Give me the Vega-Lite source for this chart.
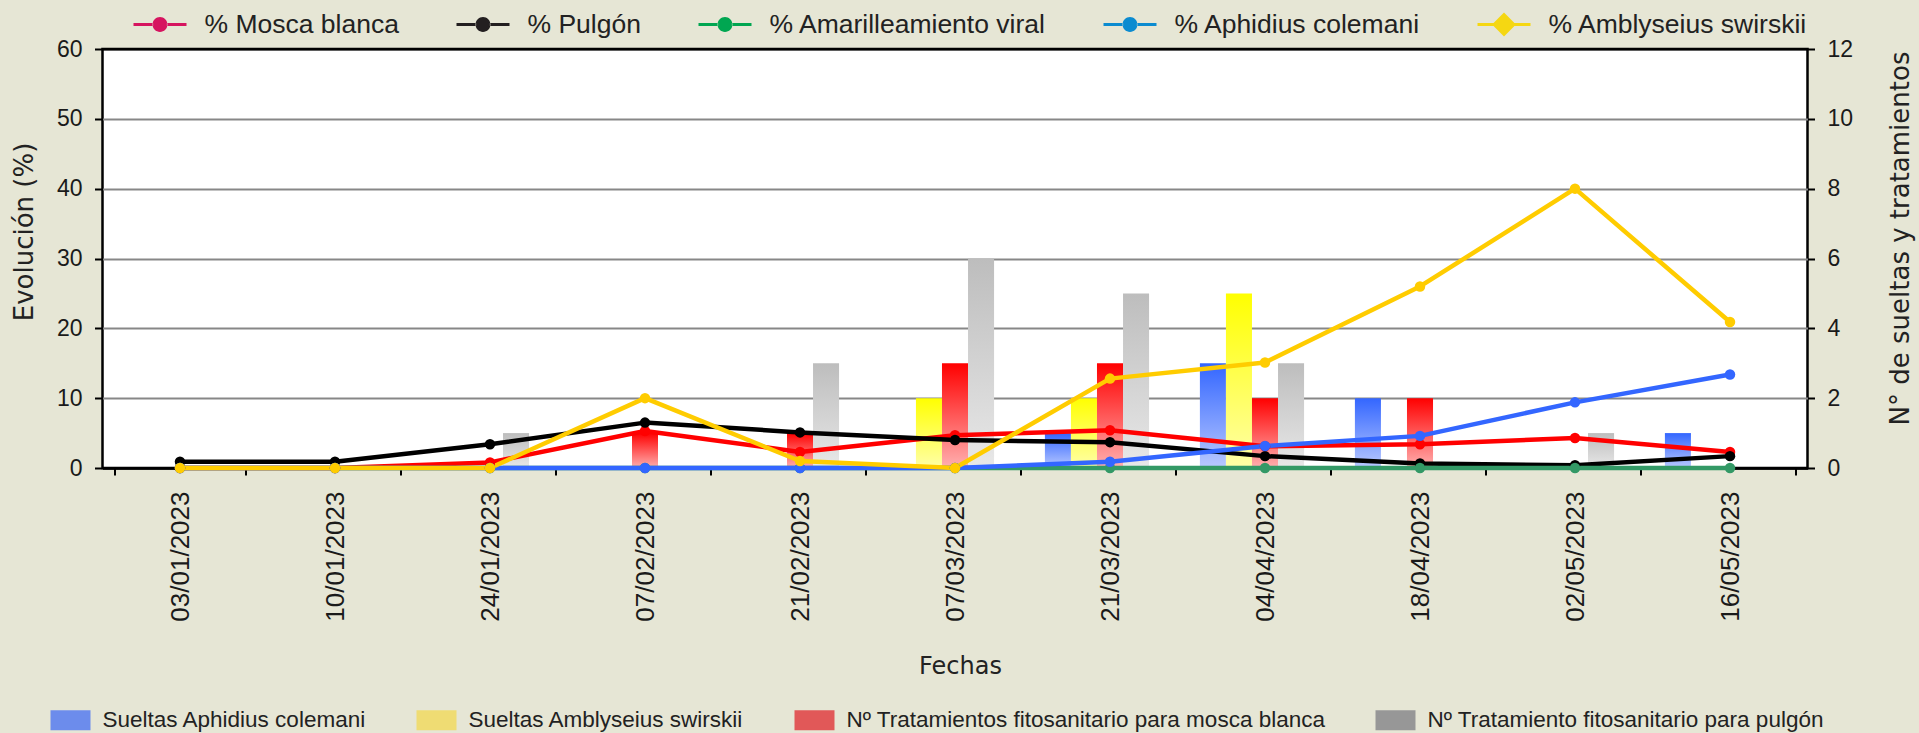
{
  "$schema": "https://vega.github.io/schema/vega-lite/v6.json",
  "width": 1705,
  "height": 419,
  "autosize": {"type": "none"},
  "padding": {"left": 102.5, "top": 49, "right": 111.5, "bottom": 265},
  "background": "#e6e6d5",
  "config": {
    "view": {"stroke": "black", "strokeWidth": 2.5, "fill": "white"},
    "axis": {"labelFont": "Liberation Sans", "labelColor": "#1a1a1a", "titleFont": "DejaVu Sans", "titleFontWeight": "normal", "titleColor": "#222222", "tickColor": "black", "tickWidth": 2, "domainColor": "black", "domainWidth": 2.5}
  },
  "datasets": {
    "lineas": [
      {"fecha": "03/01/2023", "serie": "% Mosca blanca", "pct": 0},
      {"fecha": "10/01/2023", "serie": "% Mosca blanca", "pct": 0},
      {"fecha": "24/01/2023", "serie": "% Mosca blanca", "pct": 0.8},
      {"fecha": "07/02/2023", "serie": "% Mosca blanca", "pct": 5.3},
      {"fecha": "21/02/2023", "serie": "% Mosca blanca", "pct": 2.3},
      {"fecha": "07/03/2023", "serie": "% Mosca blanca", "pct": 4.7},
      {"fecha": "21/03/2023", "serie": "% Mosca blanca", "pct": 5.4},
      {"fecha": "04/04/2023", "serie": "% Mosca blanca", "pct": 3.1},
      {"fecha": "18/04/2023", "serie": "% Mosca blanca", "pct": 3.4},
      {"fecha": "02/05/2023", "serie": "% Mosca blanca", "pct": 4.3},
      {"fecha": "16/05/2023", "serie": "% Mosca blanca", "pct": 2.3},
      {"fecha": "03/01/2023", "serie": "% Pulgón", "pct": 0.9},
      {"fecha": "10/01/2023", "serie": "% Pulgón", "pct": 0.9},
      {"fecha": "24/01/2023", "serie": "% Pulgón", "pct": 3.4},
      {"fecha": "07/02/2023", "serie": "% Pulgón", "pct": 6.5},
      {"fecha": "21/02/2023", "serie": "% Pulgón", "pct": 5.1},
      {"fecha": "07/03/2023", "serie": "% Pulgón", "pct": 4.0},
      {"fecha": "21/03/2023", "serie": "% Pulgón", "pct": 3.7},
      {"fecha": "04/04/2023", "serie": "% Pulgón", "pct": 1.7},
      {"fecha": "18/04/2023", "serie": "% Pulgón", "pct": 0.65},
      {"fecha": "02/05/2023", "serie": "% Pulgón", "pct": 0.4},
      {"fecha": "16/05/2023", "serie": "% Pulgón", "pct": 1.7},
      {"fecha": "03/01/2023", "serie": "% Amarilleamiento viral", "pct": 0},
      {"fecha": "10/01/2023", "serie": "% Amarilleamiento viral", "pct": 0},
      {"fecha": "24/01/2023", "serie": "% Amarilleamiento viral", "pct": 0},
      {"fecha": "07/02/2023", "serie": "% Amarilleamiento viral", "pct": 0},
      {"fecha": "21/02/2023", "serie": "% Amarilleamiento viral", "pct": 0},
      {"fecha": "07/03/2023", "serie": "% Amarilleamiento viral", "pct": 0},
      {"fecha": "21/03/2023", "serie": "% Amarilleamiento viral", "pct": 0},
      {"fecha": "04/04/2023", "serie": "% Amarilleamiento viral", "pct": 0},
      {"fecha": "18/04/2023", "serie": "% Amarilleamiento viral", "pct": 0},
      {"fecha": "02/05/2023", "serie": "% Amarilleamiento viral", "pct": 0},
      {"fecha": "16/05/2023", "serie": "% Amarilleamiento viral", "pct": 0},
      {"fecha": "03/01/2023", "serie": "% Aphidius colemani", "pct": 0},
      {"fecha": "10/01/2023", "serie": "% Aphidius colemani", "pct": 0},
      {"fecha": "24/01/2023", "serie": "% Aphidius colemani", "pct": 0},
      {"fecha": "07/02/2023", "serie": "% Aphidius colemani", "pct": 0},
      {"fecha": "21/02/2023", "serie": "% Aphidius colemani", "pct": 0},
      {"fecha": "07/03/2023", "serie": "% Aphidius colemani", "pct": 0},
      {"fecha": "21/03/2023", "serie": "% Aphidius colemani", "pct": 0.9},
      {"fecha": "04/04/2023", "serie": "% Aphidius colemani", "pct": 3.15},
      {"fecha": "18/04/2023", "serie": "% Aphidius colemani", "pct": 4.6},
      {"fecha": "02/05/2023", "serie": "% Aphidius colemani", "pct": 9.4},
      {"fecha": "16/05/2023", "serie": "% Aphidius colemani", "pct": 13.4},
      {"fecha": "03/01/2023", "serie": "% Amblyseius swirskii", "pct": 0},
      {"fecha": "10/01/2023", "serie": "% Amblyseius swirskii", "pct": 0},
      {"fecha": "24/01/2023", "serie": "% Amblyseius swirskii", "pct": 0},
      {"fecha": "07/02/2023", "serie": "% Amblyseius swirskii", "pct": 10},
      {"fecha": "21/02/2023", "serie": "% Amblyseius swirskii", "pct": 1.0},
      {"fecha": "07/03/2023", "serie": "% Amblyseius swirskii", "pct": 0},
      {"fecha": "21/03/2023", "serie": "% Amblyseius swirskii", "pct": 12.8},
      {"fecha": "04/04/2023", "serie": "% Amblyseius swirskii", "pct": 15.1},
      {"fecha": "18/04/2023", "serie": "% Amblyseius swirskii", "pct": 26},
      {"fecha": "02/05/2023", "serie": "% Amblyseius swirskii", "pct": 40},
      {"fecha": "16/05/2023", "serie": "% Amblyseius swirskii", "pct": 20.9}
    ],
    "barras": [
      {"fecha": "24/01/2023", "serie": "Nº Tratamiento fitosanitario para pulgón", "n": 1},
      {"fecha": "07/02/2023", "serie": "Nº Tratamientos fitosanitario para mosca blanca", "n": 1},
      {"fecha": "21/02/2023", "serie": "Nº Tratamientos fitosanitario para mosca blanca", "n": 1},
      {"fecha": "21/02/2023", "serie": "Nº Tratamiento fitosanitario para pulgón", "n": 3},
      {"fecha": "07/03/2023", "serie": "Sueltas Amblyseius swirskii", "n": 2},
      {"fecha": "07/03/2023", "serie": "Nº Tratamientos fitosanitario para mosca blanca", "n": 3},
      {"fecha": "07/03/2023", "serie": "Nº Tratamiento fitosanitario para pulgón", "n": 6},
      {"fecha": "21/03/2023", "serie": "Sueltas Aphidius colemani", "n": 1},
      {"fecha": "21/03/2023", "serie": "Sueltas Amblyseius swirskii", "n": 2},
      {"fecha": "21/03/2023", "serie": "Nº Tratamientos fitosanitario para mosca blanca", "n": 3},
      {"fecha": "21/03/2023", "serie": "Nº Tratamiento fitosanitario para pulgón", "n": 5},
      {"fecha": "04/04/2023", "serie": "Sueltas Aphidius colemani", "n": 3},
      {"fecha": "04/04/2023", "serie": "Sueltas Amblyseius swirskii", "n": 5},
      {"fecha": "04/04/2023", "serie": "Nº Tratamientos fitosanitario para mosca blanca", "n": 2},
      {"fecha": "04/04/2023", "serie": "Nº Tratamiento fitosanitario para pulgón", "n": 3},
      {"fecha": "18/04/2023", "serie": "Sueltas Aphidius colemani", "n": 2},
      {"fecha": "18/04/2023", "serie": "Nº Tratamientos fitosanitario para mosca blanca", "n": 2},
      {"fecha": "02/05/2023", "serie": "Nº Tratamiento fitosanitario para pulgón", "n": 1},
      {"fecha": "16/05/2023", "serie": "Sueltas Aphidius colemani", "n": 1}
    ]
  },
  "encoding": {
    "x": {
      "field": "fecha", "type": "nominal", "sort": null,
      "scale": {"domain": ["03/01/2023", "10/01/2023", "24/01/2023", "07/02/2023", "21/02/2023", "07/03/2023", "21/03/2023", "04/04/2023", "18/04/2023", "02/05/2023", "16/05/2023"], "paddingInner": 0.16, "paddingOuter": 0.08},
      "axis": {"title": "Fechas", "titleFontSize": 24, "titleX": 857.5, "titleY": 205, "titleBaseline": "alphabetic", "titleAlign": "center", "labelAngle": 270, "labelAlign": "right", "labelBaseline": "middle", "labelFontSize": 26, "labelPadding": 16, "tickBand": "extent", "tickSize": 7, "domain": true, "grid": false}
    }
  },
  "layer": [
    {
      "data": {"name": "barras"},
      "encoding": {
        "xOffset": {"field": "serie", "type": "nominal", "scale": {"domain": ["Sueltas Aphidius colemani", "Sueltas Amblyseius swirskii", "Nº Tratamientos fitosanitario para mosca blanca", "Nº Tratamiento fitosanitario para pulgón"], "paddingInner": 0, "paddingOuter": 0.5, "align": 0}},
        "y": {"field": "n", "type": "quantitative", "scale": {"domain": [0, 12], "nice": false}, "axis": {"orient": "right", "title": "N° de sueltas y tratamientos", "titleFontSize": 26, "titleAngle": 270, "titleX": 100.5, "titleY": 189, "titleBaseline": "alphabetic", "titleAlign": "center", "values": [0, 2, 4, 6, 8, 10, 12], "labelFontSize": 23, "labelPadding": 12.5, "tickSize": 7, "grid": false, "domain": false}}
      },
      "layer": [
        {
          "mark": {"type": "bar", "opacity": 0},
          "encoding": {
            "fill": {"field": "serie", "type": "nominal", "scale": {"domain": ["Sueltas Aphidius colemani", "Sueltas Amblyseius swirskii", "Nº Tratamientos fitosanitario para mosca blanca", "Nº Tratamiento fitosanitario para pulgón"], "range": ["#6c8cec", "#efdc73", "#e15858", "#979797"]},
              "legend": {"orient": "none", "legendX": -52, "legendY": 651, "direction": "horizontal", "title": null, "padding": 0, "symbolType": "M-1,-0.5H1V0.5H-1Z", "symbolSize": 1600, "symbolStrokeWidth": 0, "symbolOpacity": 1, "labelFont": "Liberation Sans", "labelFontSize": 22.5, "labelColor": "#222222", "labelOffset": 12, "columnPadding": 50, "labelLimit": 800}}
          }
        },
        {
          "transform": [{"filter": "datum.serie === 'Sueltas Aphidius colemani'"}],
          "mark": {"type": "bar", "color": {"gradient": "linear", "x1": 0, "y1": 0, "x2": 0, "y2": 1, "stops": [{"offset": 0, "color": "#3366ff"}, {"offset": 1, "color": "#b9c9ff"}]}}
        },
        {
          "transform": [{"filter": "datum.serie === 'Sueltas Amblyseius swirskii'"}],
          "mark": {"type": "bar", "color": {"gradient": "linear", "x1": 0, "y1": 0, "x2": 0, "y2": 1, "stops": [{"offset": 0, "color": "#ffff00"}, {"offset": 1, "color": "#ffffa8"}]}}
        },
        {
          "transform": [{"filter": "datum.serie === 'Nº Tratamientos fitosanitario para mosca blanca'"}],
          "mark": {"type": "bar", "color": {"gradient": "linear", "x1": 0, "y1": 0, "x2": 0, "y2": 1, "stops": [{"offset": 0, "color": "#ff0000"}, {"offset": 1, "color": "#ffb0b0"}]}}
        },
        {
          "transform": [{"filter": "datum.serie === 'Nº Tratamiento fitosanitario para pulgón'"}],
          "mark": {"type": "bar", "color": {"gradient": "linear", "x1": 0, "y1": 0, "x2": 0, "y2": 1, "stops": [{"offset": 0, "color": "#bdbdbd"}, {"offset": 1, "color": "#e8e8e8"}]}}
        }
      ]
    },
    {
      "data": {"name": "lineas"},
      "encoding": {
        "y": {"field": "pct", "type": "quantitative", "scale": {"domain": [0, 60], "nice": false}, "axis": {"orient": "left", "title": "Evolución (%)", "titleFontSize": 26, "titleAngle": 270, "titleX": -70.5, "titleY": 182.5, "titleBaseline": "alphabetic", "titleAlign": "center", "values": [0, 10, 20, 30, 40, 50, 60], "labelFontSize": 23, "labelPadding": 12.5, "tickSize": 8, "grid": true, "gridWidth": 2, "gridColor": {"condition": {"test": "datum.value === 0 || datum.value === 60", "value": "black"}, "value": "#878787"}, "domain": false}}
      },
      "layer": [
        {
          "mark": {"type": "line", "strokeWidth": 4.5, "strokeJoin": "round"},
          "encoding": {
            "stroke": {"field": "serie", "type": "nominal", "scale": {"domain": ["% Amblyseius swirskii", "% Aphidius colemani", "% Amarilleamiento viral", "% Pulgón", "% Mosca blanca"], "range": ["#ffcc00", "#3366ff", "#339966", "#000000", "#ff0000"]}, "legend": null}
          }
        },
        {
          "mark": {"type": "point", "filled": true, "size": 110, "opacity": 1},
          "encoding": {
            "fill": {"field": "serie", "type": "nominal", "scale": {"domain": ["% Amblyseius swirskii", "% Aphidius colemani", "% Amarilleamiento viral", "% Pulgón", "% Mosca blanca"], "range": ["#ffcc00", "#3366ff", "#339966", "#000000", "#ff0000"]}, "legend": null}
          }
        },
        {
          "mark": {"type": "point", "filled": true, "opacity": 0, "size": 10},
          "encoding": {
            "color": {"field": "serie", "type": "nominal", "scale": {"domain": ["% Mosca blanca", "% Pulgón", "% Amarilleamiento viral", "% Aphidius colemani", "% Amblyseius swirskii"], "range": ["#d6145f", "#231f20", "#00a651", "#0b8bd0", "#f5d712"]},
              "legend": {"orient": "none", "legendX": 31, "legendY": -51, "direction": "horizontal", "title": null, "padding": 0, "symbolSize": 2809, "symbolStrokeWidth": 0, "symbolOpacity": 1, "labelFont": "Liberation Sans", "labelFontSize": 26.5, "labelColor": "#222222", "labelOffset": 18, "columnPadding": 57, "labelLimit": 800}},
            "shape": {"field": "serie", "type": "nominal", "scale": {"domain": ["% Mosca blanca", "% Pulgón", "% Amarilleamiento viral", "% Aphidius colemani", "% Amblyseius swirskii"], "range": [
              "M-1,-0.06H-0.26V0.06H-1Z M0.26,-0.06H1V0.06H0.26Z M-0.28,0A0.28,0.28 0 1,0 0.28,0A0.28,0.28 0 1,0 -0.28,0Z",
              "M-1,-0.06H-0.26V0.06H-1Z M0.26,-0.06H1V0.06H0.26Z M-0.28,0A0.28,0.28 0 1,0 0.28,0A0.28,0.28 0 1,0 -0.28,0Z",
              "M-1,-0.06H-0.26V0.06H-1Z M0.26,-0.06H1V0.06H0.26Z M-0.28,0A0.28,0.28 0 1,0 0.28,0A0.28,0.28 0 1,0 -0.28,0Z",
              "M-1,-0.06H-0.26V0.06H-1Z M0.26,-0.06H1V0.06H0.26Z M-0.28,0A0.28,0.28 0 1,0 0.28,0A0.28,0.28 0 1,0 -0.28,0Z",
              "M-1,-0.06H-0.4V0.06H-1Z M0.4,-0.06H1V0.06H0.4Z M0,-0.45L0.45,0L0,0.45L-0.45,0Z"]},
              "legend": {"orient": "none", "legendX": 31, "legendY": -51, "direction": "horizontal", "title": null, "padding": 0, "symbolSize": 2809, "symbolStrokeWidth": 0, "symbolOpacity": 1, "labelFont": "Liberation Sans", "labelFontSize": 26.5, "labelColor": "#222222", "labelOffset": 18, "columnPadding": 57, "labelLimit": 800}}
          }
        }
      ]
    }
  ],
  "resolve": {"scale": {"y": "independent", "fill": "independent", "color": "independent", "shape": "independent", "stroke": "independent"}, "axis": {"y": "independent"}}
}
